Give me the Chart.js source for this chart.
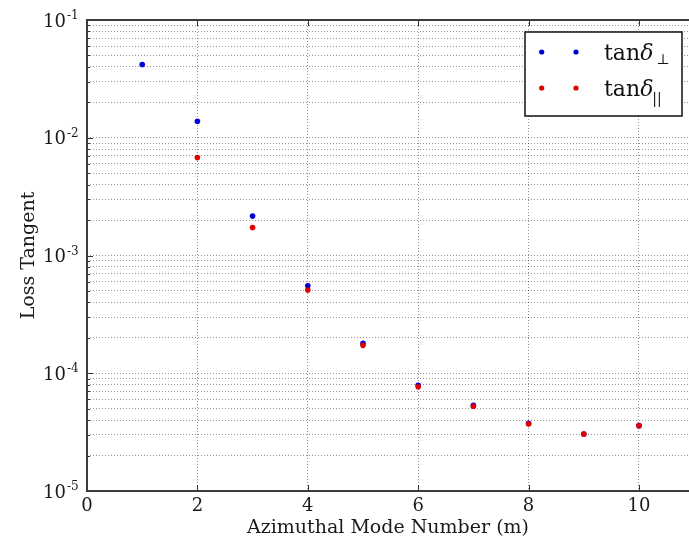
<!DOCTYPE html>
<html>
<head>
<meta charset="utf-8">
<script src="https://cdn.jsdelivr.net/npm/chart.js@4"></script>
<style>
  html, body { margin: 0; padding: 0; background: #ffffff; overflow: hidden; }
  #wrap { width: 689px; height: 541px; }
</style>
</head>
<body>
<div id="wrap"><canvas id="c" width="689" height="541"></canvas></div>
<script>
// ---- data ----
const modeNumbers = [1, 2, 3, 4, 5, 6, 7, 8, 9, 10];
const tanPerp = [0.0419, 0.0138, 0.00216, 0.000554, 0.000180, 7.9e-5, 5.35e-5, 3.76e-5, 3.05e-5, 3.59e-5];
const tanPara = [null, 0.00678, 0.00173, 0.000509, 0.0001726, 7.69e-5, 5.24e-5, 3.70e-5, 3.05e-5, 3.59e-5];
const xTickValues = [0, 2, 4, 6, 8, 10];
const yDecadeExponents = [-5, -4, -3, -2, -1];
const legendBase = 'tan';
const legendSymbol = 'δ';
const legendSubs = ['⊥', '||'];
const xTitle = 'Azimuthal Mode Number (m)';
const yTitle = 'Loss Tangent';

const SERIF = '"DejaVu Serif", "Liberation Serif", serif';
const BLUE = '#0000d8';
const RED = '#e00000';

function toPoints(ys) {
  const pts = [];
  modeNumbers.forEach((m, i) => { if (ys[i] != null) pts.push({ x: m, y: ys[i] }); });
  return pts;
}

const yTickValues = [];
yDecadeExponents.forEach((e, idx) => {
  if (idx === yDecadeExponents.length - 1) { yTickValues.push(Math.pow(10, e)); return; }
  for (let k = 1; k <= 9; k++) yTickValues.push(+(k * Math.pow(10, e)).toPrecision(6));
});

const decorPlugin = {
  id: 'decor',
  afterDraw(chart) {
    const ctx = chart.ctx;
    const ca = chart.chartArea;
    const ys = chart.scales.y;
    const xs = chart.scales.x;
    ctx.save();
    // inward tick marks
    ctx.strokeStyle = '#333';
    ctx.lineWidth = 1;
    ctx.beginPath();
    yTickValues.forEach(v => {
      const p = Math.round(ys.getPixelForValue(v)) + 0.5;
      const major = Math.abs(Math.log10(v) - Math.round(Math.log10(v))) < 1e-9;
      const len = major ? 6 : 3;
      ctx.moveTo(ca.left, p); ctx.lineTo(ca.left + len, p);
    });
    xTickValues.forEach(v => {
      const p = Math.round(xs.getPixelForValue(v)) + 0.5;
      ctx.moveTo(p, ca.bottom); ctx.lineTo(p, ca.bottom - 6);
      ctx.moveTo(p, ca.top); ctx.lineTo(p, ca.top + 6);
    });
    ctx.stroke();
    // frame (right side lies outside the picture)
    ctx.strokeStyle = '#3c3c3c';
    ctx.lineWidth = 2;
    ctx.beginPath();
    ctx.moveTo(chart.width + 2, ca.top);
    ctx.lineTo(ca.left, ca.top);
    ctx.lineTo(ca.left, ca.bottom);
    ctx.lineTo(chart.width + 2, ca.bottom);
    ctx.stroke();
    // y tick labels with superscripts
    ctx.fillStyle = '#1a1a1a';
    yDecadeExponents.forEach(e => {
      const p = ys.getPixelForValue(Math.pow(10, e));
      ctx.font = '18px ' + SERIF;
      ctx.textAlign = 'right';
      ctx.textBaseline = 'alphabetic';
      ctx.fillText('10', 66, p + 6.5);
      ctx.font = '12px ' + SERIF;
      ctx.textAlign = 'left';
      ctx.fillText('-' + Math.abs(e), 67, p - 1);
    });
    // legend
    const bx = 525, by = 32, bw = 157, bh = 84;
    ctx.fillStyle = '#ffffff';
    ctx.fillRect(bx, by, bw, bh);
    ctx.strokeStyle = '#111';
    ctx.lineWidth = 1.5;
    ctx.strokeRect(bx, by, bw, bh);
    const rows = [{ y: 52, color: BLUE, sub: legendSubs[0], subDy: 4, subDx: 3 },
                  { y: 88, color: RED, sub: legendSubs[1], subDy: 7, subDx: -1 }];
    rows.forEach(r => {
      ctx.fillStyle = r.color;
      [bx + 16.7, bx + 51].forEach(cx => {
        ctx.beginPath(); ctx.arc(cx, r.y, 2.6, 0, Math.PI * 2); ctx.fill();
      });
      ctx.fillStyle = '#111';
      ctx.textAlign = 'left';
      ctx.textBaseline = 'alphabetic';
      const tx = bx + 79, base = r.y + 8;
      ctx.font = '22px ' + SERIF;
      ctx.fillText(legendBase, tx, base);
      const w1 = ctx.measureText(legendBase).width;
      ctx.font = 'italic 22px ' + SERIF;
      ctx.fillText(legendSymbol, tx + w1, base);
      const w2 = ctx.measureText(legendSymbol).width;
      ctx.font = '14px ' + SERIF;
      ctx.fillText(r.sub, tx + w1 + w2 + r.subDx, base + r.subDy);
    });
    ctx.restore();
  }
};

new Chart(document.getElementById('c'), {
  type: 'scatter',
  data: {
    datasets: [
      { label: 'tanδ⊥', data: toPoints(tanPerp), backgroundColor: BLUE, borderColor: BLUE,
        pointRadius: 2.8, borderWidth: 0, order: 2 },
      { label: 'tanδ||', data: toPoints(tanPara), backgroundColor: RED, borderColor: RED,
        pointRadius: 2.8, borderWidth: 0, order: 1 }
    ]
  },
  options: {
    responsive: false,
    animation: false,
    layout: { autoPadding: false, padding: { top: 20, left: 0, right: 0, bottom: 0 } },
    plugins: { legend: { display: false }, tooltip: { enabled: false } },
    scales: {
      x: {
        type: 'linear', min: 0, max: 10.906,
        afterBuildTicks: s => { s.ticks = xTickValues.map(v => ({ value: v })); },
        afterFit: s => { s.height = 50; },
        grid: { color: 'rgba(0,0,0,0.42)', lineWidth: 1, drawTicks: false },
        border: { display: false, dash: [1, 2] },
        ticks: { font: { family: SERIF, size: 18 }, color: '#1a1a1a', padding: 5, maxRotation: 0 },
        title: { display: true, text: xTitle, font: { family: SERIF, size: 19 }, color: '#1a1a1a',
                 padding: { top: 0, bottom: 2 } }
      },
      y: {
        type: 'logarithmic', min: 1e-5, max: 1e-1,
        afterBuildTicks: s => { s.ticks = yTickValues.map(v => ({ value: v })); },
        afterFit: s => { s.width = 87; },
        grid: { color: 'rgba(0,0,0,0.42)', lineWidth: 1, drawTicks: false },
        border: { display: false, dash: [1, 2] },
        ticks: { display: false },
        title: { display: true, text: yTitle, font: { family: SERIF, size: 19 }, color: '#1a1a1a',
                 padding: { top: 18, bottom: 0 } }
      }
    }
  },
  plugins: [decorPlugin]
});
</script>
</body>
</html>
